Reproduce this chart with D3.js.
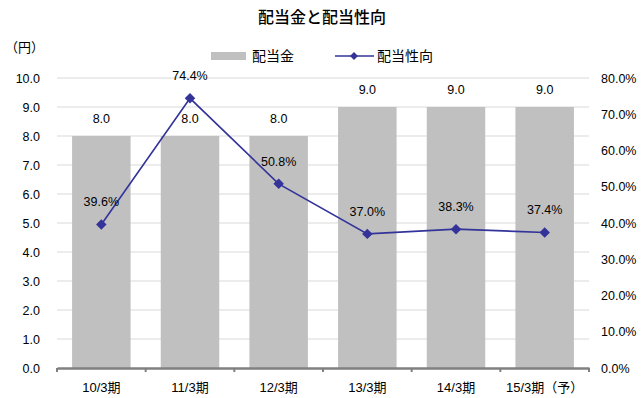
<!DOCTYPE html>
<html><head><meta charset="utf-8">
<script src="https://cdn.jsdelivr.net/npm/d3@7"></script>
<style>
body{margin:0;background:#fff;}
text{font-family:"Liberation Sans","Noto Sans CJK JP",sans-serif;fill:#000;}
</style></head>
<body><svg id="c" width="642" height="398"></svg>
<script>
const categories = ["10/3期","11/3期","12/3期","13/3期","14/3期","15/3期（予）"];
const dividends = [8.0, 8.0, 8.0, 9.0, 9.0, 9.0];
const payoutRatio = [39.6, 74.4, 50.8, 37.0, 38.3, 37.4];
const leftTicks = [0,1,2,3,4,5,6,7,8,9,10];
const rightTicks = [0,10,20,30,40,50,60,70,80];

const svg = d3.select("#c");
const m = {l:57, r:589, t:78, b:368};
const x = d3.scaleBand().domain(categories).range([m.l, m.r]).paddingInner(0.34).paddingOuter(0.17);
const xb = d3.scaleBand().domain(categories).range([m.l, m.r]);
const yL = d3.scaleLinear().domain([0,10]).range([m.b, m.t]);
const yR = d3.scaleLinear().domain([0,80]).range([m.b, m.t]);

// gridlines
svg.append("g").selectAll("line").data(leftTicks.slice(1)).join("line")
  .attr("x1", m.l).attr("x2", m.r).attr("y1", d=>yL(d)).attr("y2", d=>yL(d))
  .attr("stroke", "#d9d9d9").attr("stroke-width", 1);

// bars
svg.append("g").selectAll("rect").data(dividends).join("rect")
  .attr("x", (d,i)=>x(categories[i])).attr("width", x.bandwidth())
  .attr("y", d=>yL(d)).attr("height", d=>m.b - yL(d)).attr("fill", "#c0c0c0");

// bar labels
svg.append("g").selectAll("text").data(dividends).join("text")
  .attr("x", (d,i)=>x(categories[i]) + x.bandwidth()/2).attr("y", d=>yL(d) - 13)
  .attr("text-anchor","middle").attr("font-size", 12.5).text(d=>d.toFixed(1));

// bottom axis
const xAxis = d3.axisBottom(xb).tickSize(0).tickPadding(12);
const gx = svg.append("g").attr("transform", `translate(0,${m.b})`).call(xAxis);
gx.select(".domain").attr("stroke", "#808080").attr("stroke-width", 2.5);
gx.selectAll(".tick text").attr("font-size", 13).attr("dy", "0.9em").attr("fill","#000");
// category boundary ticks
svg.append("g").selectAll("line").data(d3.range(categories.length + 1)).join("line")
  .attr("x1", i=>m.l + i*xb.step()).attr("x2", i=>m.l + i*xb.step())
  .attr("y1", m.b).attr("y2", m.b + 4).attr("stroke", "#808080").attr("stroke-width", 2);

// left axis
const gl = svg.append("g").attr("transform", `translate(${m.l},0)`)
  .call(d3.axisLeft(yL).tickValues(leftTicks).tickFormat(d3.format(".1f")).tickSize(0).tickPadding(17));
gl.select(".domain").remove();
gl.selectAll(".tick text").attr("font-size", 12.5).attr("fill","#000");

// right axis
const gr = svg.append("g").attr("transform", `translate(${m.r},0)`)
  .call(d3.axisRight(yR).tickValues(rightTicks).tickFormat(d=>d.toFixed(1)+"%").tickSize(0).tickPadding(12));
gr.select(".domain").remove();
gr.selectAll(".tick text").attr("font-size", 12.5).attr("fill","#000");

// line
const lineColor = "#333399";
const line = d3.line().x((d,i)=>xb(categories[i]) + xb.bandwidth()/2).y(d=>yR(d));
svg.append("path").datum(payoutRatio).attr("d", line).attr("fill","none")
  .attr("stroke", lineColor).attr("stroke-width", 1.6);
const sym = d3.symbol().type(d3.symbolDiamond2).size(70);
svg.append("g").selectAll("path").data(payoutRatio).join("path")
  .attr("d", sym).attr("fill", lineColor)
  .attr("transform", (d,i)=>`translate(${xb(categories[i]) + xb.bandwidth()/2},${yR(d)})`);
svg.append("g").selectAll("text").data(payoutRatio).join("text")
  .attr("x", (d,i)=>xb(categories[i]) + xb.bandwidth()/2).attr("y", d=>yR(d) - 18)
  .attr("text-anchor","middle").attr("font-size", 12.5).text(d=>d.toFixed(1)+"%");

// title
svg.append("text").attr("x", 322).attr("y", 23).attr("text-anchor","middle")
  .attr("font-size", 16).attr("font-weight","500").text("配当金と配当性向");
svg.append("text").attr("x", 5).attr("y", 52).attr("font-size", 13).text("（円）");

// legend
svg.append("rect").attr("x", 211).attr("y", 52).attr("width", 35).attr("height", 8).attr("fill", "#c0c0c0");
svg.append("text").attr("x", 252).attr("y", 61).attr("font-size", 14).text("配当金");
svg.append("line").attr("x1", 335).attr("x2", 374).attr("y1", 56).attr("y2", 56).attr("stroke", lineColor).attr("stroke-width", 1.6);
svg.append("path").attr("d", d3.symbol().type(d3.symbolDiamond2).size(40)).attr("fill", lineColor).attr("transform","translate(354,56)");
svg.append("text").attr("x", 377).attr("y", 61).attr("font-size", 14).text("配当性向");
</script></body></html>
